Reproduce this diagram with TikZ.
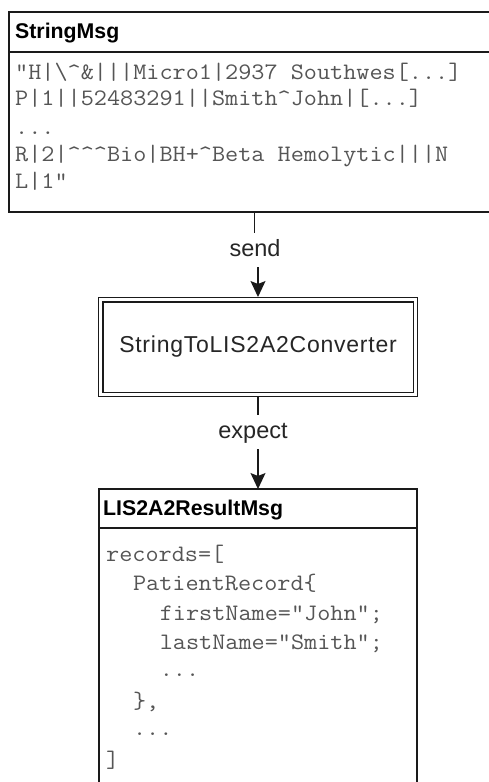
\documentclass[tikz,border=0pt]{standalone}
\usepackage{fontspec}
\setmainfont{Liberation Sans}
\newfontfamily\codefont[FakeStretch=1.08]{Latin Modern Mono}
\newfontfamily\convfont[LetterSpace=3.3]{Liberation Sans}
\usetikzlibrary{arrows.meta}

\definecolor{inkline}{HTML}{1A1A1A}
\definecolor{codegray}{HTML}{555555}
\definecolor{labelink}{HTML}{262626}

\begin{document}
\begin{tikzpicture}[x=1pt,y=-1pt,
  frame/.style={draw=inkline, line width=1.2pt, inner sep=0pt, outer sep=0pt},
  divider/.style={draw=inkline, line width=1.2pt},
  hdr/.style={anchor=base west, inner sep=0pt, text=black,
    font=\fontsize{21.3}{24}\selectfont\bfseries},
  code/.style={anchor=base west, inner sep=0pt, text=codegray,
    font=\codefont\fontsize{23.6}{26}\selectfont},
  lbl/.style={anchor=base, inner xsep=0pt, inner ysep=6pt, text=labelink,
    text height=17pt, text depth=5pt, font=\fontsize{23.5}{26}\selectfont},
  flow/.style={draw=inkline, line width=1.2pt},
  tip/.style={-{Stealth[length=16pt,width=15pt,inset=3pt]}},
  convbox/.style={draw=inkline, double=white, double distance=3.3pt,
    line width=1.1pt, outer sep=2.75pt, text=labelink,
    font=\convfont\fontsize{23}{26}\selectfont}
]
\useasboundingbox (0,0) rectangle (488,782);
\fill[white] (0,0) rectangle (488,782);

% ---- input message box (runs past the right edge) ----
\node[frame, minimum width=491pt, minimum height=200pt] (msg) at (254.5,112) {};
\draw[divider] (9,52) -- (500,52);
\node[hdr] (msghdr) at (15,38) {StringMsg};
\node[code] (m1) at (15,79)  {"H|\textbackslash\textasciicircum\&|||Micro1|2937 Southwes[...]};
\node[code] (m2) at (15,105) {P|1||52483291||Smith\textasciicircum John|[...]};
\node[code] (m3) at (15,134) {...};
\node[code] (m4) at (15,161) {R|2|\textasciicircum\textasciicircum\textasciicircum Bio|BH+\textasciicircum Beta Hemolytic|||N};
\node[code] (m5) at (15,188) {L|1"};

% ---- converter ----
\node[convbox, minimum width=314.5pt, minimum height=94.5pt] (conv) at (258,347) {StringToLIS2A2Converter};

% ---- result message box (runs past the bottom edge) ----
\node[frame, minimum width=318pt, minimum height=311pt] (res) at (258,644.5) {};
\draw[divider] (99,528) -- (417,528);
\node[hdr] (reshdr) at (103,515) {LIS2A2ResultMsg};
\node[code] (r1) at (106.0,561)   {records=[};
\node[code] (r2) at (132.8,590.5) {PatientRecord\{};
\node[code] (r3) at (159.6,620)   {firstName="John";};
\node[code] (r4) at (159.6,649.5) {lastName="Smith";};
\node[code] (r5) at (159.6,676)   {...};
\node[code] (r6) at (132.8,708.5) {\},};
\node[code] (r7) at (132.8,735)   {...};
\node[code] (r8) at (106.0,767.5) {]};

% ---- connectors with their labels ----
\node[lbl] (send) at (255,256) {send};
\node[lbl] (expect) at (253,438) {expect};

\draw[flow] (msg.south) -- (msg.south |- send.north);
\draw[flow, tip] (send.south -| conv.north) -- (conv.north);
\draw[flow] (conv.south) -- (conv.south |- expect.north);
\draw[flow, tip] (expect.south -| res.north) -- (res.north);
\end{tikzpicture}
\end{document}
